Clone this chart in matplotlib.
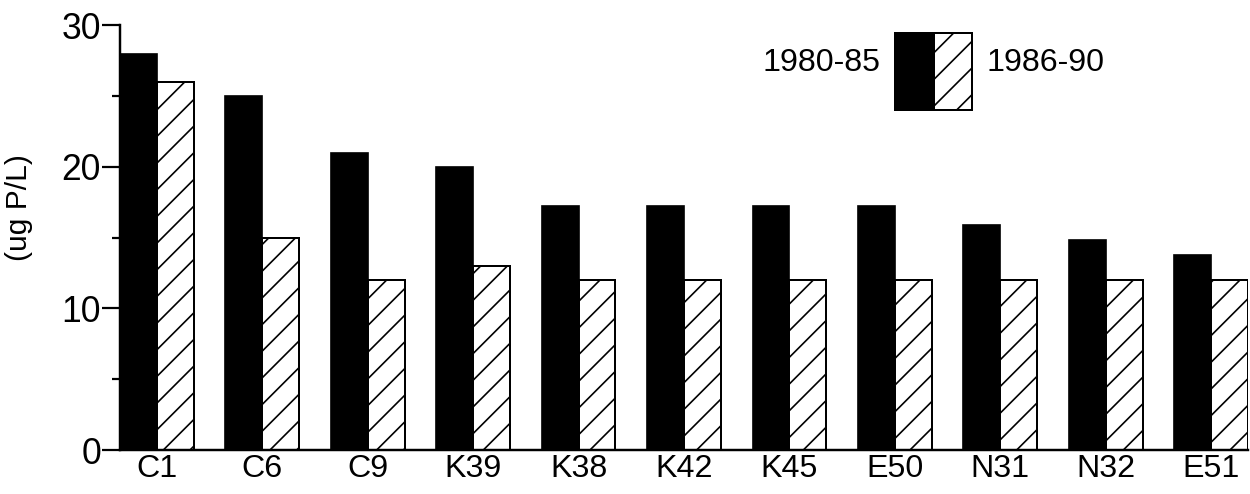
import matplotlib
matplotlib.use('Agg')
import matplotlib.pyplot as plt
from matplotlib.patches import Rectangle
import numpy as np

# total phosphorus by station, two periods
stations = ['C1', 'C6', 'C9', 'K39', 'K38', 'K42', 'K45', 'E50', 'N31', 'N32', 'E51']
tp_1980_85 = [28, 25, 21, 20, 17.2, 17.2, 17.2, 17.2, 15.9, 14.8, 13.8]
tp_1986_90 = [26, 15, 12, 13, 12, 12, 12, 12, 12, 12, 12]
periods = ['1980-85', '1986-90']

plt.rcParams['font.family'] = ['Liberation Sans', 'DejaVu Sans']
plt.rcParams['hatch.linewidth'] = 1.5

DPI = 80
fig = plt.figure(figsize=(1250 / DPI, 494 / DPI), dpi=DPI)
ax = fig.add_axes([0.096, 0.089, 0.9024, 0.860])

x = np.arange(len(stations))
w = 0.35
ax.bar(x - w / 2, tp_1980_85, w, color='black', edgecolor='black', linewidth=1.5)
ax.bar(x + w / 2, tp_1986_90, w, color='white', edgecolor='black',
       linewidth=1.8, hatch='/')

ax.set_xlim(-w, len(stations) - 1 + w)
ax.set_ylim(0, 30)

ax.spines['top'].set_visible(False)
ax.spines['right'].set_visible(False)
for s in ('left', 'bottom'):
    ax.spines[s].set_linewidth(2.2)

ax.set_xticks(x)
ax.set_xticklabels(stations, fontsize=29)
ax.tick_params(axis='x', length=0, pad=4)

ax.set_yticks([0, 10, 20, 30])
ax.set_yticks([5, 15, 25], minor=True)
ax.tick_params(axis='y', which='major', length=16, width=2, labelsize=32, pad=1)
ax.tick_params(axis='y', which='minor', length=7, width=2)

ax.set_ylabel('(ug P/L)', fontsize=27)
ax.yaxis.set_label_coords(-0.077, 0.57)

# legend: label, black box, hatched box, label
bx, by, bh = 0.687, 0.80, 0.181
ax.add_patch(Rectangle((bx, by), 0.0346, bh, transform=ax.transAxes,
                       facecolor='black', edgecolor='black', linewidth=1.8,
                       clip_on=False))
ax.add_patch(Rectangle((bx + 0.0346, by), 0.0337, bh, transform=ax.transAxes,
                       facecolor='white', edgecolor='black', linewidth=1.8,
                       hatch='/', clip_on=False))
ax.text(bx - 0.013, 0.91, periods[0], transform=ax.transAxes,
        ha='right', va='center', fontsize=29)
ax.text(bx + 0.0683 + 0.013, 0.91, periods[1], transform=ax.transAxes,
        ha='left', va='center', fontsize=29)

fig.savefig('out.png', dpi=DPI)
